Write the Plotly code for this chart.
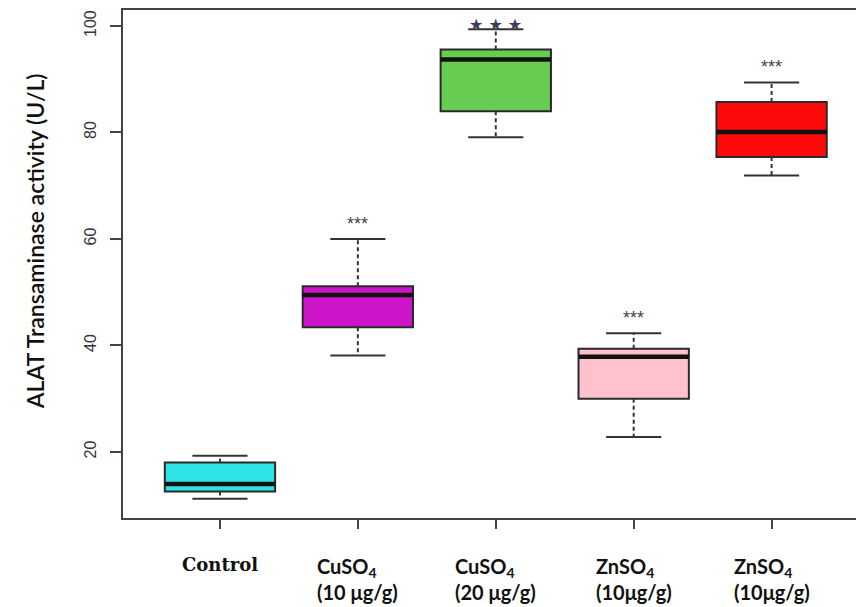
import plotly.graph_objects as go

# ---- data ----
groups = ["Control", "CuSO4 (10 µg/g)", "CuSO4 (20 µg/g)", "ZnSO4 (10µg/g)", "ZnSO4 (10µg/g) b"]
label_line1 = ["Control", "CuSO<sub>4</sub>", "CuSO<sub>4</sub>", "ZnSO<sub>4</sub>", "ZnSO<sub>4</sub>"]
label_line2 = ["", "(10 μg/g)", "(20 μg/g)", "(10μg/g)", "(10μg/g)"]
whisker_low = [11.2, 38.1, 79.1, 22.8, 71.9]
q1_vals = [12.6, 43.4, 84.0, 30.0, 75.4]
median_vals = [14.0, 49.5, 93.7, 37.9, 80.1]
q3_vals = [18.0, 51.1, 95.6, 39.4, 85.7]
whisker_high = [19.3, 60.0, 99.4, 42.3, 89.4]
signif = ["", "***", "★ ★ ★", "***", "***"]
box_colors = ["#2EE3E3", "#CC14C8", "#66CC52", "#FFC1CB", "#FF0A0A"]
y_ticks = [20, 40, 60, 80, 100]

positions = list(range(len(groups)))
BOX_W = 0.8
CAP_W = 0.4
LINE_C = "#2a2a2a"

fig = go.Figure()

for i, p in enumerate(positions):
    # dashed whiskers
    fig.add_trace(go.Scatter(
        x=[p, p, None, p, p],
        y=[q3_vals[i], whisker_high[i], None, q1_vals[i], whisker_low[i]],
        mode="lines", line=dict(color="#333333", width=2, dash="4px,3px"),
        hoverinfo="skip", showlegend=False))
    # whisker caps
    fig.add_trace(go.Scatter(
        x=[p - CAP_W / 2, p + CAP_W / 2, None, p - CAP_W / 2, p + CAP_W / 2],
        y=[whisker_high[i], whisker_high[i], None, whisker_low[i], whisker_low[i]],
        mode="lines", line=dict(color="#333333", width=2),
        hoverinfo="skip", showlegend=False))
    # box
    fig.add_trace(go.Box(
        x=[p], q1=[q1_vals[i]], median=[median_vals[i]], q3=[q3_vals[i]],
        lowerfence=[q1_vals[i]], upperfence=[q3_vals[i]],
        width=BOX_W, whiskerwidth=0, fillcolor=box_colors[i],
        line=dict(color=LINE_C, width=2), hoverinfo="skip", showlegend=False))
    # thick median
    fig.add_trace(go.Scatter(
        x=[p - BOX_W / 2, p + BOX_W / 2], y=[median_vals[i], median_vals[i]],
        mode="lines", line=dict(color="#111111", width=4.5),
        hoverinfo="skip", showlegend=False))

# significance stars
for i, p in enumerate(positions):
    if not signif[i]:
        continue
    if "★" in signif[i]:
        font = dict(family="DejaVu Sans", size=16, color="#3c3c5a")
        shift = 5
    else:
        font = dict(family="Liberation Sans", size=18, color="#444444")
        shift = 15
    fig.add_annotation(x=p, y=whisker_high[i], text=signif[i], showarrow=False,
                       xanchor="center", yanchor="middle", yshift=shift, font=font)

# x category labels
for i, p in enumerate(positions):
    if label_line2[i]:
        txt = label_line1[i] + "<br>" + label_line2[i]
        font = dict(family="Lato", size=20, color="#111111", weight="bold")
    else:
        txt = label_line1[i]
        font = dict(family="DejaVu Serif", size=18, color="#111111", weight="bold")
    fig.add_annotation(x=p, y=-0.066, xref="x", yref="paper", text=txt,
                       showarrow=False, xanchor="center", yanchor="top",
                       align="left", font=font)

# y-axis title
fig.add_annotation(x=-0.12, y=0.545, xref="paper", yref="paper",
                   text="ALAT Transaminase activity (U/L)", textangle=-90,
                   showarrow=False, xanchor="center", yanchor="middle",
                   font=dict(family="Lato", size=23, color="#111111", weight=600))

fig.update_layout(
    width=858, height=607,
    margin=dict(l=123, r=2, t=10, b=89),
    paper_bgcolor="white", plot_bgcolor="white",
    showlegend=False,
)
fig.update_xaxes(
    range=[-0.703, 4.612], tickvals=positions, ticktext=[""] * len(positions),
    showline=True, mirror=True, linecolor="#444444", linewidth=2,
    ticks="outside", ticklen=9, tickwidth=2, tickcolor="#444444",
    showgrid=False, zeroline=False)
fig.update_yaxes(
    range=[7.6, 103], tickvals=y_ticks, tickangle=-90,
    tickfont=dict(family="Liberation Sans", size=16, color="#333333"),
    showline=True, linecolor="#444444", linewidth=2,
    ticks="outside", ticklen=11, tickwidth=2, tickcolor="#444444",
    ticklabelstandoff=8,
    showgrid=False, zeroline=False)

fig.write_html("out.html")
